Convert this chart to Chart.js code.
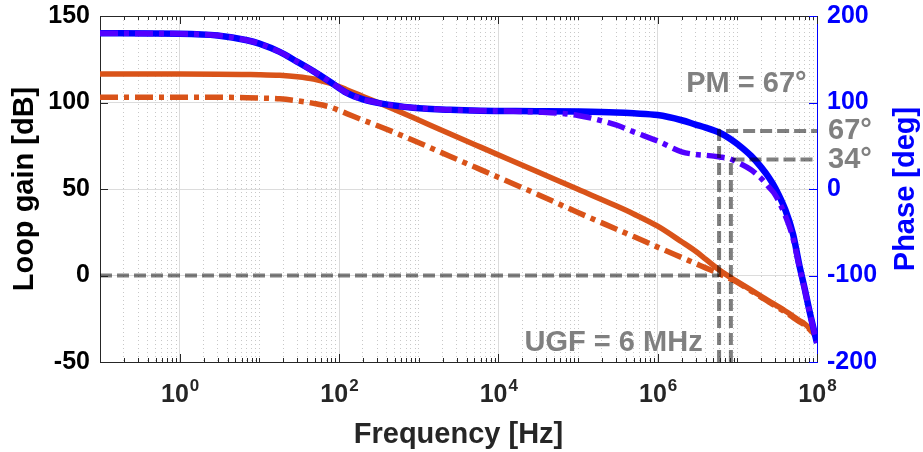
<!DOCTYPE html>
<html>
<head>
<meta charset="utf-8">
<script src="https://cdn.jsdelivr.net/npm/chart.js@4.4.1/dist/chart.umd.min.js"></script>
<style>
  html, body { margin: 0; padding: 0; background: #fff; }
</style>
</head>
<body>
<canvas id="bode" width="923" height="452"></canvas>
<script>
// frequency points [Hz]
const freqs = [0.1, 1, 3, 7, 10, 18, 30, 48, 77, 125, 200, 330, 850, 2500, 6000,
  3e4, 1e5, 3e5, 5e5, 1e6, 2e6, 3e6, 4e6, 6e6, 8e6, 1e7, 1.5e7, 2e7, 2.5e7, 3e7,
  4e7, 5e7, 6e7, 7e7, 8e7, 1e8];

// loop gain [dB]
const gainSolid = [116.5, 116.5, 116.4, 116.2, 116.1, 115.7, 114.9, 113.6, 111.2, 107.4,
  103.5, 99.5, 91.3, 81.8, 74.2, 60.3, 49.8, 40.3, 35.6, 28.5, 19.5, 14, 9.5, 3, -0.8,
  -3.5, -8.5, -12, -14.8, -17, -20.5, -23.5, -26, -28, -30.5, -36];
const gainDash = [103, 103, 103, 102.8, 102.6, 102.1, 101, 99.5, 97.4, 93.6,
  89.8, 86, 78.2, 68.8, 61.2, 47.2, 36.4, 26.9, 22.5, 16.4, 10.4, 6.9, 4.4, 0.9, -1.8,
  -4, -9, -12.6, -15.4, -17.6, -21.2, -24.2, -26.7, -28.7, -31, -36];

// phase [deg]
const phaseSolid = [180, 179.5, 177.5, 172, 168, 158.5, 147, 136, 124, 111,
  103.5, 99, 94, 91.5, 90.5, 90, 89.5, 88.5, 87.5, 85.5, 79.5, 74.5, 71, 65, 58.5,
  52, 38, 25, 13, 1, -24, -52, -88, -115, -140, -178];
const phaseDash = [180, 179.5, 177.5, 172, 168, 158.5, 147, 136, 124, 111,
  103.5, 99, 94, 91.5, 90.5, 89, 85, 74, 66, 55.5, 43, 40, 39, 37, 35,
  31, 22, 12, 2, -7, -31, -57, -90, -116, -141, -178];

// markers
const ugfFreq = 5.9e6;
const ugfFreq2 = 8.3e6;
const pm1 = 67;
const pm2 = 34;
const xLabelExps = [0, 2, 4, 6, 8];

const FONT = "'Liberation Sans', Arial, sans-serif";
const ORANGE = '#d95319';
const BLUE = '#0000ff';
const VIOLET = '#5200ff';
const REF = 'rgba(0,0,0,0.5)';
const DASHDOT = [18, 6, 5, 6];

Chart.defaults.font.family = FONT;

const pts = (vals) => freqs.map((f, i) => ({ x: f, y: vals[i] }));

const isMajor = (v) => {
  const l = Math.log10(v);
  return Math.abs(l - Math.round(l)) < 1e-6 && Math.round(l) % 2 === 0;
};

// no extra room above/below for the end labels
const noPad = (width) => (scale) => {
  scale.width = width;
  scale.paddingTop = 0;
  scale.paddingBottom = 0;
};

const decor = {
  id: 'decor',
  afterDraw(chart) {
    const { ctx, chartArea: a, scales: { x, y, y2 } } = chart;
    ctx.save();
    ctx.lineWidth = 1;
    ctx.strokeStyle = '#262626';
    ctx.beginPath();
    ctx.moveTo(a.left, a.top + 0.5);
    ctx.lineTo(a.right, a.top + 0.5);
    ctx.stroke();

    // inward ticks
    x.ticks.forEach(t => {
      const px = Math.round(x.getPixelForValue(t.value)) + 0.5;
      const len = isMajor(t.value) ? 8 : 4;
      ctx.beginPath();
      ctx.moveTo(px, a.bottom);
      ctx.lineTo(px, a.bottom - len);
      ctx.moveTo(px, a.top);
      ctx.lineTo(px, a.top + len);
      ctx.stroke();
    });
    y.ticks.forEach(t => {
      const py = Math.round(y.getPixelForValue(t.value)) + 0.5;
      ctx.beginPath();
      ctx.moveTo(a.left, py);
      ctx.lineTo(a.left + 8, py);
      ctx.stroke();
    });
    ctx.strokeStyle = BLUE;
    y2.ticks.forEach(t => {
      const py = Math.round(y2.getPixelForValue(t.value)) + 0.5;
      ctx.beginPath();
      ctx.moveTo(a.right, py);
      ctx.lineTo(a.right - 8, py);
      ctx.stroke();
    });

    // x tick labels 10^n
    ctx.fillStyle = '#262626';
    ctx.textAlign = 'left';
    ctx.textBaseline = 'alphabetic';
    xLabelExps.forEach(e => {
      const px = x.getPixelForValue(Math.pow(10, e));
      ctx.font = `bold 25px ${FONT}`;
      const wb = ctx.measureText('10').width;
      ctx.font = `bold 17px ${FONT}`;
      const we = ctx.measureText(String(e)).width;
      const left = px - (wb + we) / 2;
      ctx.font = `bold 25px ${FONT}`;
      ctx.fillText('10', left, a.bottom + 40);
      ctx.font = `bold 17px ${FONT}`;
      ctx.fillText(String(e), left + wb + 1, a.bottom + 29);
    });

    // annotations
    ctx.fillStyle = '#808080';
    ctx.font = `bold 29px ${FONT}`;
    ctx.textBaseline = 'middle';
    ctx.textAlign = 'center';
    ctx.fillText('PM = 67\u00b0', x.getPixelForValue(1.3e7), y2.getPixelForValue(121));
    ctx.fillText('UGF = 6 MHz', x.getPixelForValue(2.8e5), y.getPixelForValue(-39));
    ctx.textAlign = 'left';
    ctx.fillText(pm1 + '\u00b0', a.right + 11, y2.getPixelForValue(pm1));
    ctx.fillText(pm2 + '\u00b0', a.right + 11, y2.getPixelForValue(pm2));

    // right axis title, reading bottom to top
    ctx.fillStyle = BLUE;
    ctx.translate(906, (a.top + a.bottom) / 2);
    ctx.rotate(-Math.PI / 2);
    ctx.textAlign = 'center';
    ctx.fillText('Phase [deg]', 0, 0);
    ctx.restore();
  }
};

new Chart(document.getElementById('bode'), {
  type: 'line',
  data: {
    datasets: [
      { data: [{ x: freqs[0], y: 0 }, { x: ugfFreq, y: 0 }], yAxisID: 'y',
        borderColor: REF, borderWidth: 4, borderDash: [12, 5], pointRadius: 0 },
      { data: [{ x: ugfFreq, y: -200 }, { x: ugfFreq, y: pm1 }, { x: 1e8, y: pm1 }], yAxisID: 'y2',
        borderColor: REF, borderWidth: 4, borderDash: [12, 5], pointRadius: 0 },
      { data: [{ x: ugfFreq2, y: -200 }, { x: ugfFreq2, y: pm2 }, { x: 1e8, y: pm2 }], yAxisID: 'y2',
        borderColor: REF, borderWidth: 4, borderDash: [12, 5], pointRadius: 0 },
      { data: pts(phaseDash), yAxisID: 'y2', borderColor: VIOLET, borderWidth: 5.5,
        borderDash: DASHDOT, pointRadius: 0, cubicInterpolationMode: 'monotone' },
      { data: pts(phaseSolid), yAxisID: 'y2', borderColor: BLUE, borderWidth: 6.5,
        pointRadius: 0, cubicInterpolationMode: 'monotone' },
      { data: pts(gainDash), yAxisID: 'y', borderColor: ORANGE, borderWidth: 5.5,
        borderDash: DASHDOT, pointRadius: 0, cubicInterpolationMode: 'monotone' },
      { data: pts(gainSolid), yAxisID: 'y', borderColor: ORANGE, borderWidth: 5.5,
        pointRadius: 0, cubicInterpolationMode: 'monotone' }
    ]
  },
  options: {
    responsive: false,
    animation: false,
    layout: { padding: { top: 16 } },
    plugins: {
      legend: { display: false },
      tooltip: { enabled: false }
    },
    scales: {
      x: {
        type: 'logarithmic',
        min: 0.1,
        max: 1e8,
        afterBuildTicks: (scale) => {
          const t = [];
          for (let e = -1; e < 8; e++) {
            for (let m = 1; m < 10; m++) t.push({ value: m * Math.pow(10, e) });
          }
          t.push({ value: 1e8 });
          scale.ticks = t;
        },
        afterFit: (scale) => { scale.height = 90; },
        ticks: { display: false },
        grid: {
          drawTicks: false,
          color: (c) => (c.tick && isMajor(c.tick.value)) ? '#dcdcdc' : '#c8c8c8'
        },
        border: {
          color: '#262626',
          dash: (c) => (c.tick && !isMajor(c.tick.value)) ? [1, 3] : []
        },
        title: {
          display: true,
          text: 'Frequency [Hz]',
          color: '#262626',
          font: { size: 29, weight: 'bold' },
          padding: { top: 0, bottom: 0 }
        }
      },
      y: {
        position: 'left',
        min: -50,
        max: 150,
        afterFit: noPad(100),
        ticks: { stepSize: 50, color: '#000', font: { size: 25, weight: 'bold' }, padding: 10 },
        grid: { drawTicks: false, color: '#dcdcdc' },
        border: { color: '#262626' },
        title: {
          display: true,
          text: 'Loop gain [dB]',
          color: '#000',
          font: { size: 29, weight: 'bold' },
          padding: { top: 8, bottom: 0 }
        }
      },
      y2: {
        position: 'right',
        min: -200,
        max: 200,
        afterFit: noPad(106),
        ticks: { stepSize: 100, color: BLUE, font: { size: 25, weight: 'bold' }, padding: 10 },
        grid: { drawOnChartArea: false, drawTicks: false },
        border: { color: BLUE }
      }
    }
  },
  plugins: [decor]
});
</script>
</body>
</html>
